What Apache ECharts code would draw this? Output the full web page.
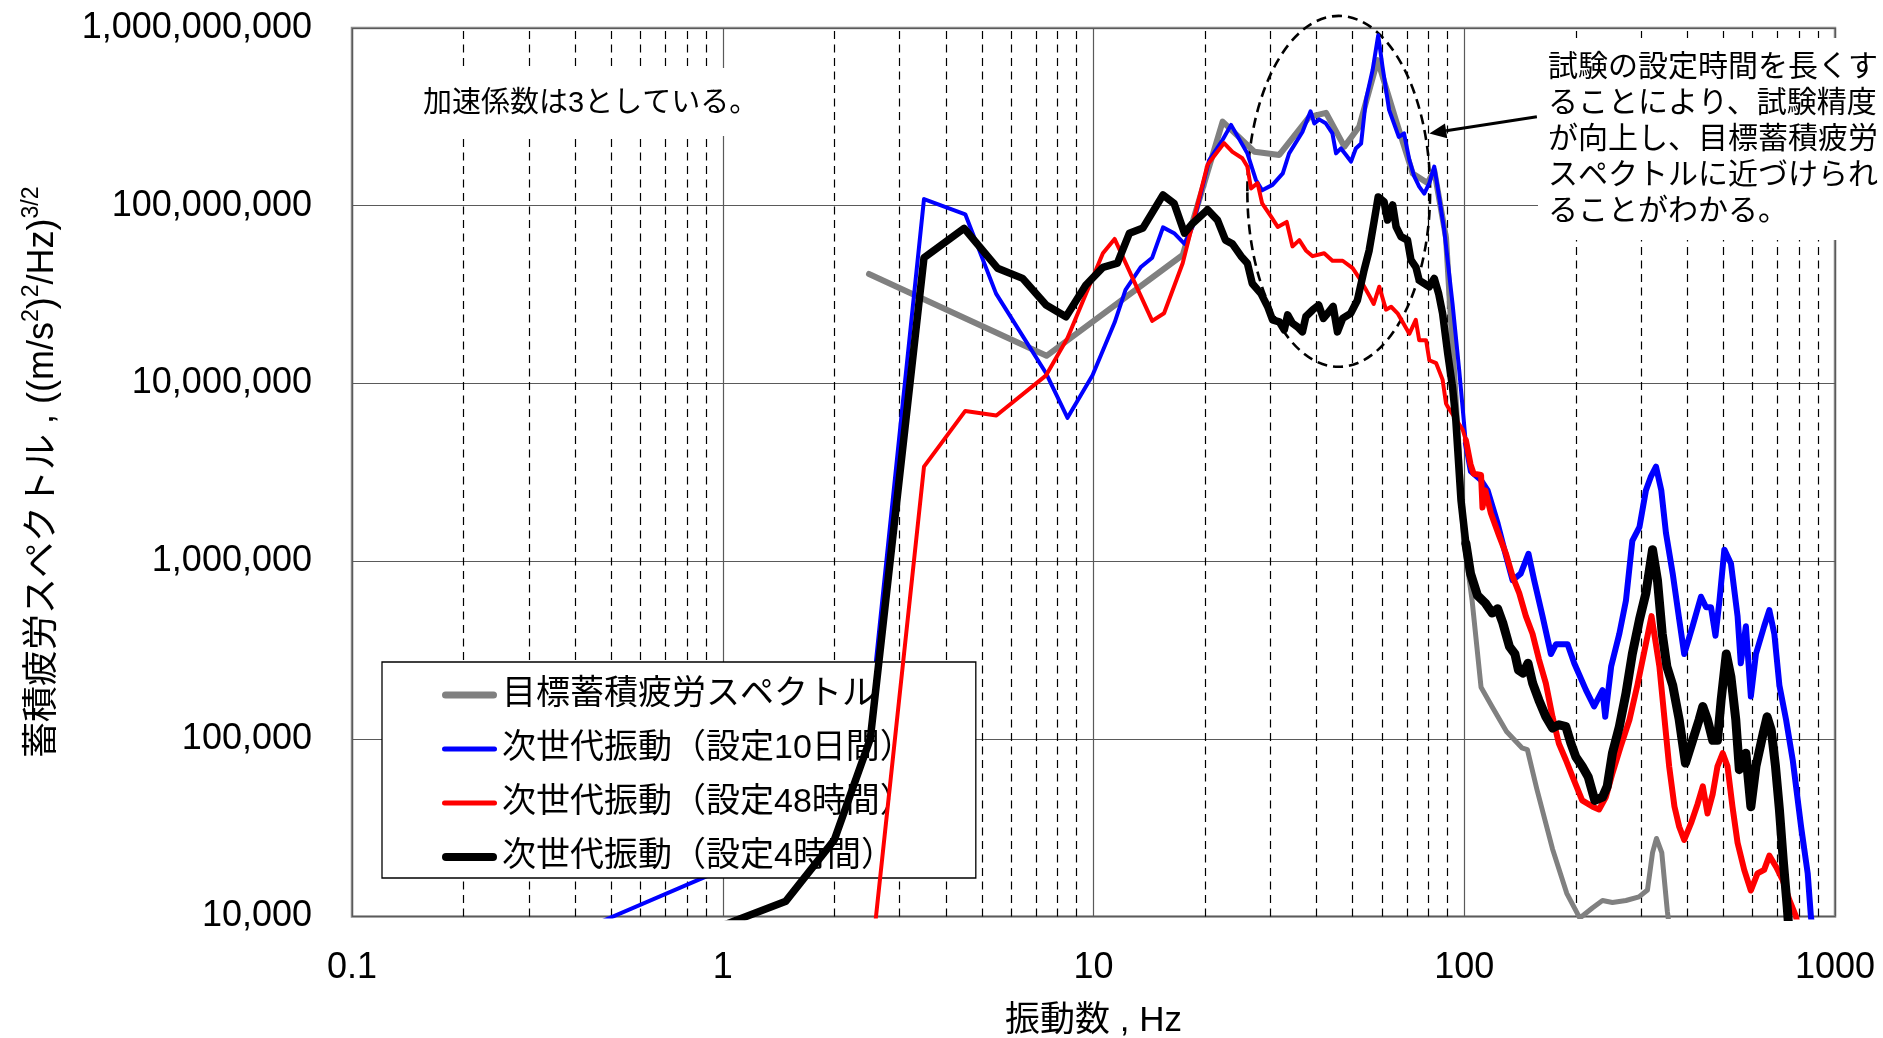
<!DOCTYPE html>
<html>
<head>
<meta charset="utf-8">
<script src="https://cdn.jsdelivr.net/npm/echarts@6/dist/echarts.min.js"></script>
<style>
  html, body { margin: 0; padding: 0; background: #fff; }
  #chart { width: 1883px; height: 1038px; }
</style>
</head>
<body>
<div id="chart"></div>
<script>
// Accumulated fatigue spectrum: target vs. three test settings (log-log)

const xTickLabels = ['0.1', '1', '10', '100', '1000'];
const yTickLabels = ['10,000', '100,000', '1,000,000', '10,000,000', '100,000,000', '1,000,000,000'];

const seriesNames = [
  '目標蓄積疲労スペクトル',
  '次世代振動（設定10日間）',
  '次世代振動（設定48時間）',
  '次世代振動（設定4時間）'
];

// Target spectrum
const targetFreq = [2.48, 7.47, 17.4, 22.3, 27.2, 31.7, 38.2, 42.4, 47.5, 52.1, 58.4, 65.4, 72.6, 79.6, 83, 89.3,
  100, 105, 111, 119, 130, 143, 148, 157, 173, 189, 205, 222, 236, 251, 273, 296, 312, 322, 330, 341, 353, 375];
const targetValue = [4.13e7, 1.43e7, 5.28e7, 2.97e8, 2.01e8, 1.93e8, 3.16e8, 3.33e8, 2.15e8, 2.79e8, 6.6e8, 3.03e8, 1.52e8, 1.34e8, 1.58e8, 6.6e7,
  1.26e6, 6.0e5, 1.95e5, 1.51e5, 1.10e5, 8.9e4, 8.7e4, 5.2e4, 2.4e4, 1.35e4, 9.8e3, 1.12e4, 1.23e4, 1.2e4, 1.23e4, 1.29e4, 1.41e4, 2.29e4, 2.75e4, 2.29e4, 1.07e4, 4.0e3];

// Setting: 10 days
const run10dFreq = [0.4, 1.0, 2.5, 3.49, 4.51, 5.46, 7.45, 8.51, 9.94, 11.4, 12.2, 13.4, 14.4, 15.4, 16.5, 17.6, 18.5, 20.5, 22.3, 23.5,
  26.0, 27.4, 28.5, 30.4, 32.4, 33.7, 36.6, 38.5, 39.4, 40.6, 42.3, 44.1, 45.1, 46.5, 48, 49.5, 51, 52.7, 54.3, 56.6,
  58.6, 60.2, 62.7, 66.6, 68.8, 71.1, 73.3, 75.6, 78, 80.5, 83, 84.7, 88.3, 93, 96.9, 101, 104.2, 110.9, 115.6, 123,
  128.3, 135, 142, 149, 154.4, 162.6, 171.3, 176.7, 190, 198, 213, 224, 236, 240, 249, 262, 273, 284, 297, 309,
  319, 329, 340, 350, 365, 380, 392, 413, 435, 449, 463, 476, 488, 503, 524, 546, 557, 575, 593, 612,
  644, 665, 686, 708, 738, 769, 810, 844, 861, 900];
const run10dValue = [8.1e3, 1.84e4, 1.35e5, 1.09e8, 8.95e7, 3.2e7, 1.14e7, 6.4e6, 1.11e7, 2.2e7, 3.36e7, 4.5e7, 5.1e7, 7.55e7, 7.0e7, 6.1e7, 7.6e7, 1.8e8, 2.35e8, 2.85e8,
  1.97e8, 1.4e8, 1.22e8, 1.31e8, 1.52e8, 1.97e8, 2.6e8, 3.4e8, 2.9e8, 3.06e8, 2.91e8, 2.55e8, 1.97e8, 2.1e8, 1.93e8, 1.77e8, 2.1e8, 2.24e8, 3.94e8, 5.8e8,
  9.1e8, 6.05e8, 3.46e8, 2.44e8, 2.55e8, 1.81e8, 1.46e8, 1.28e8, 1.17e8, 1.34e8, 1.66e8, 1.28e8, 7.3e7, 2.8e7, 1.19e7, 4.6e6, 3.2e6, 2.86e6, 2.5e6, 1.63e6,
  1.16e6, 7.8e5, 8.5e5, 1.1e6, 7.8e5, 4.9e5, 3.0e5, 3.4e5, 3.4e5, 2.66e5, 1.88e5, 1.52e5, 1.88e5, 1.33e5, 2.55e5, 3.9e5, 6.0e5, 1.3e6, 1.56e6, 2.5e6,
  3.0e6, 3.4e6, 2.5e6, 1.44e6, 8.5e5, 4.7e5, 3.0e5, 4.3e5, 6.3e5, 5.5e5, 5.5e5, 3.8e5, 6.0e5, 1.16e6, 9.7e5, 4.9e5, 2.66e5, 4.3e5, 1.73e5, 3.0e5,
  4.3e5, 5.3e5, 3.9e5, 2.0e5, 1.28e5, 7.6e4, 3.2e4, 1.75e4, 1.0e4, 5e3];

// Setting: 48 hours
const run48hFreq = [2.5, 3.49, 4.51, 5.47, 7.45, 8.51, 10.6, 11.4, 14.4, 15.5, 17.4, 20.3, 22.5, 23.7, 25.2, 26.0, 26.6, 27.7, 28.5, 30.1,
  31.4, 33.2, 34.4, 35.9, 37.4, 39, 41.9, 44.1, 47, 50, 52.6, 55.5, 57, 59, 61.5, 63.5, 66.1, 71.1, 74, 75.6,
  78.9, 80.5, 84, 87.4, 89.3, 90.2, 99, 101, 104, 106, 111, 112, 114, 118, 124, 129.6, 135, 140.7, 146.6, 152.8,
  159, 166, 173, 180, 188, 196, 208, 222, 231, 241, 251, 264, 279, 293, 305, 320, 336, 347, 357, 369,
  380, 392, 409, 426, 440, 453, 468, 482, 498, 513, 529, 546, 569, 593, 618, 644, 665, 694, 723, 753, 785, 810];
const run48hValue = [5e3, 3.4e6, 7.0e6, 6.6e6, 1.11e7, 1.8e7, 5.4e7, 6.5e7, 2.25e7, 2.48e7, 4.74e7, 1.7e8, 2.25e8, 2.01e8, 1.85e8, 1.66e8, 1.25e8, 1.34e8, 1.03e8, 8.7e7,
  7.6e7, 8.1e7, 5.9e7, 6.4e7, 5.6e7, 5.2e7, 5.4e7, 4.9e7, 4.9e7, 4.45e7, 3.8e7, 3.1e7, 2.8e7, 3.5e7, 2.6e7, 2.7e7, 2.48e7, 1.9e7, 2.28e7, 1.75e7,
  1.75e7, 1.35e7, 1.3e7, 1.05e7, 7.7e6, 7.4e6, 5.5e6, 4.8e6, 3.5e6, 3.1e6, 3.05e6, 2.0e6, 2.5e6, 1.86e6, 1.4e6, 1.1e6, 8.2e5, 6.6e5, 4.9e5, 3.9e5,
  2.8e5, 2.05e5, 1.33e5, 9.4e4, 7.6e4, 6.1e4, 4.5e4, 4.15e4, 4.0e4, 4.7e4, 6.4e4, 9.0e4, 1.28e5, 2.0e5, 3.0e5, 4.9e5, 2.55e5, 1.28e5, 7.0e4, 4.15e4,
  3.2e4, 2.7e4, 3.35e4, 4.3e4, 5.4e4, 3.8e4, 4.9e4, 7.0e4, 8.3e4, 7.0e4, 4.15e4, 2.6e4, 1.83e4, 1.4e4, 1.75e4, 1.83e4, 2.2e4, 1.9e4, 1.6e4, 1.24e4, 1.0e4, 7e3];

// Setting: 4 hours
const run4hFreq = [1.0, 1.48, 2.0, 2.5, 3.49, 4.48, 5.51, 6.44, 7.45, 8.43, 9.54, 10.6, 11.6, 12.5, 13.6, 15.4, 16.5, 17.6, 18.5, 20.3,
  21.6, 22.7, 23.7, 25, 26, 26.8, 28.3, 29.5, 30.4, 31.7, 32.7, 33.4, 34.4, 35.5, 36.6, 37.4, 39, 40.5, 41.7, 42.8,
  44.3, 45.5, 47, 49.4, 51.5, 53.7, 55.4, 57.2, 58.6, 60.8, 62.1, 64.1, 65.5, 67.5, 70.3, 71.8, 74.1, 75.6, 78, 80.5,
  83, 85.3, 87.4, 90.2, 93, 94.9, 98, 101, 104, 108.6, 114, 119, 123, 127, 132.4, 137, 140, 144, 148.6, 153,
  159, 166, 173, 180, 188, 194, 200, 208, 216, 225, 236, 243, 251, 262, 273, 284, 297, 309, 322, 332,
  342, 352, 365, 380, 395, 413, 430, 440, 453, 468, 482, 493, 509, 524, 540, 552, 575, 593, 612, 640,
  656, 673, 691, 708, 725, 743, 760];
const run4hValue = [8.9e3, 1.22e4, 2.7e4, 1.0e5, 5.1e7, 7.46e7, 4.45e7, 3.9e7, 2.76e7, 2.37e7, 3.58e7, 4.5e7, 4.75e7, 7.0e7, 7.5e7, 1.15e8, 1.03e8, 7.0e7, 7.95e7, 9.5e7,
  8.3e7, 6.4e7, 6.1e7, 5.2e7, 4.75e7, 3.65e7, 3.2e7, 2.7e7, 2.28e7, 2.22e7, 2.0e7, 2.43e7, 2.18e7, 2.08e7, 1.95e7, 2.38e7, 2.59e7, 2.76e7, 2.32e7, 2.48e7,
  2.71e7, 1.95e7, 2.32e7, 2.48e7, 2.94e7, 4.35e7, 5.6e7, 8.3e7, 1.12e8, 1.05e8, 8.3e7, 1.01e8, 7.6e7, 6.7e7, 6.4e7, 4.95e7, 4.5e7, 3.8e7, 3.65e7, 3.5e7,
  3.9e7, 3.2e7, 2.48e7, 1.48e7, 9.5e6, 6.2e6, 2.2e6, 1.26e6, 8.5e5, 6.4e5, 5.8e5, 5.1e5, 5.4e5, 4.5e5, 3.3e5, 3.0e5, 2.44e5, 2.34e5, 2.66e5, 2.05e5,
  1.65e5, 1.33e5, 1.15e5, 1.2e5, 1.17e5, 9.4e4, 7.9e4, 7.0e4, 6.1e4, 4.5e4, 4.7e4, 5.4e4, 8.3e4, 1.17e5, 1.8e5, 3.0e5, 4.7e5, 6.6e5, 1.16e6, 7.8e5,
  3.9e5, 2.55e5, 2.0e5, 1.28e5, 7.3e4, 9.8e4, 1.28e5, 1.52e5, 1.28e5, 9.8e4, 9.8e4, 1.65e5, 3.0e5, 2.23e5, 1.28e5, 6.7e4, 8.3e4, 4.15e4, 7.0e4, 1.07e5,
  1.33e5, 1.12e5, 7.0e4, 4.0e4, 2.08e4, 1.14e4, 6e3];

const noteLeft = '加速係数は3としている。';
const noteRightLines = [
  '試験の設定時間を長くす',
  'ることにより、試験精度',
  'が向上し、目標蓄積疲労',
  'スペクトルに近づけられ',
  'ることがわかる。'
];

const LATIN = "'Liberation Sans', Arial, 'Noto Sans CJK JP', sans-serif";
const seriesColors = ['#808080', '#0000ff', '#ff0000', '#000000'];
// stroke width below / above ~100 Hz (the measured traces are densely jittered up there)
const widthLow = [6, 4, 4, 7.5];
const widthHigh = [5, 6, 6, 9];
const legendBar = [7, 5, 5, 8];
const SPLIT_HZ = 100;

function toPairs(f, v) {
  const n = Math.min(f.length, v.length);
  const out = [];
  for (let i = 0; i < n; i++) out.push([f[i], v[i]]);
  return out;
}

// split a trace in two parts that share the point nearest to the split frequency
function splitTrace(pairs, fs) {
  let k = 0, best = Infinity;
  pairs.forEach(function (p, i) {
    const d = Math.abs(Math.log10(p[0] / fs));
    if (d < best) { best = d; k = i; }
  });
  return [pairs.slice(0, k + 1), pairs.slice(k)];
}

// dashed minor grid at 2..9 within each decade
const minorFreqs = [];
[0.1, 1, 10, 100].forEach(function (d) {
  for (let k = 2; k <= 9; k++) minorFreqs.push(+(k * d).toPrecision(3));
});

// rounded bar used as legend key (width x thickness)
function barIcon(w, t) {
  const r = t / 2;
  return 'path://M' + r + ',0 L' + (w - r) + ',0 A' + r + ',' + r + ' 0 0 1 ' + (w - r) + ',' + t +
    ' L' + r + ',' + t + ' A' + r + ',' + r + ' 0 0 1 ' + r + ',0 Z';
}

const dataSets = [
  toPairs(targetFreq, targetValue),
  toPairs(run10dFreq, run10dValue),
  toPairs(run48hFreq, run48hValue),
  toPairs(run4hFreq, run4hValue)
];

const chart = echarts.init(document.getElementById('chart'), null, { renderer: 'canvas' });

function lineSeries(name, data, i, width) {
  return {
    name: name,
    type: 'line',
    data: data,
    symbol: 'none',
    showSymbol: false,
    clip: true,
    z: 2 + i,
    color: seriesColors[i],
    lineStyle: { color: seriesColors[i], width: width, join: 'round', cap: 'round' },
    emphasis: { disabled: true },
    silent: true
  };
}

const series = [];
dataSets.forEach(function (d, i) {
  const parts = splitTrace(d, SPLIT_HZ);
  series.push(lineSeries(seriesNames[i], parts[0], i, widthLow[i]));
  series.push(lineSeries(seriesNames[i], parts[1], i, widthHigh[i]));
});

series.push({
  name: 'minor-grid',
  type: 'line',
  data: [],
  silent: true,
  markLine: {
    silent: true,
    z: 0.5,
    animation: false,
    symbol: ['none', 'none'],
    label: { show: false },
    emphasis: { disabled: true },
    lineStyle: { type: [8, 5.5], color: '#000', width: 1.2 },
    data: minorFreqs.map(function (f) { return { xAxis: f }; })
  }
});

const option = {
  animation: false,
  backgroundColor: '#ffffff',
  textStyle: { fontFamily: LATIN },
  grid: {
    left: 352, top: 28, width: 1483, height: 888.5,
    show: true, borderColor: '#8a8a8a', borderWidth: 2.5, backgroundColor: 'transparent',
    containLabel: false, outerBoundsMode: 'none'
  },
  xAxis: {
    type: 'log', logBase: 10, min: 0.1, max: 1000,
    axisLine: { show: false }, axisTick: { show: false },
    axisLabel: {
      fontSize: 36, fontFamily: LATIN, color: '#000', margin: 34,
      showMinLabel: true, showMaxLabel: true,
      formatter: function (v) { return xTickLabels[Math.round(Math.log10(v)) + 1]; }
    },
    splitLine: { show: true, lineStyle: { color: '#5a5a5a', width: 1.2 } },
    name: '振動数 , Hz', nameLocation: 'middle', nameGap: 87,
    nameTextStyle: { fontSize: 35, fontFamily: LATIN, color: '#000' }
  },
  yAxis: {
    type: 'log', logBase: 10, min: 1e4, max: 1e9,
    axisLine: { show: false }, axisTick: { show: false },
    axisLabel: {
      fontSize: 36, fontFamily: LATIN, color: '#000', margin: 40,
      showMinLabel: true, showMaxLabel: true,
      formatter: function (v) { return yTickLabels[Math.round(Math.log10(v)) - 4]; }
    },
    splitLine: { show: true, lineStyle: { color: '#5a5a5a', width: 1.2 } },
    name: '{a|蓄積疲労スペクトル , ((m/s}{s|2}{a|)}{s|2}{a|/Hz)}{s|3/2}',
    nameLocation: 'middle', nameRotate: 90, nameGap: 286,
    nameTextStyle: {
      rich: {
        a: { fontSize: 36, fontFamily: LATIN, color: '#000', lineHeight: 46 },
        s: { fontSize: 23, fontFamily: LATIN, color: '#000', lineHeight: 23, verticalAlign: 'top' }
      }
    }
  },
  legend: {
    show: true, orient: 'vertical', left: 382, top: 662,
    padding: [12, 62, 0, 60], itemGap: 12, itemWidth: 55, itemHeight: 14,
    backgroundColor: '#fff', borderColor: '#000', borderWidth: 1.3, borderRadius: 0,
    selectedMode: false, symbolKeepAspect: true,
    itemStyle: { borderWidth: 0 },
    textStyle: { fontSize: 34, fontFamily: LATIN, color: '#000', lineHeight: 42 },
    data: seriesNames.map(function (n, i) {
      return { name: n, icon: barIcon(55, legendBar[i]) };
    })
  },
  series: series
};

chart.setOption(option);

// annotations anchored to data coordinates
function px(f, v) { return chart.convertToPixel({ gridIndex: 0 }, [f, v]); }

const eL = px(26.0, 1.2e8), eR = px(80.9, 1.2e8);
const eT = px(45.9, 1.17e9), eB = px(45.9, 1.24e7);
const ell = {
  cx: (eL[0] + eR[0]) / 2, cy: (eT[1] + eB[1]) / 2,
  rx: (eR[0] - eL[0]) / 2, ry: (eB[1] - eT[1]) / 2
};

const aStart = px(157, 3.17e8), aTip = px(80.5, 2.55e8);
const dx = aTip[0] - aStart[0], dy = aTip[1] - aStart[1];
const len = Math.sqrt(dx * dx + dy * dy);
const ux = dx / len, uy = dy / len;
const headLen = 17, headHalf = 7.5;
const baseX = aTip[0] - ux * headLen, baseY = aTip[1] - uy * headLen;

const graphics = [
  { type: 'rect', z: 1, silent: true, shape: { x: 410, y: 68, width: 365, height: 68 }, style: { fill: '#fff' } },
  { type: 'text', z: 6, silent: true, x: 423, y: 104,
    style: { text: noteLeft, fontSize: 29, fontFamily: LATIN, fill: '#000', align: 'left', verticalAlign: 'middle', textAlign: 'left', textVerticalAlign: 'middle' } },
  { type: 'rect', z: 1, silent: true, shape: { x: 1538, y: 38, width: 345, height: 202 }, style: { fill: '#fff' } },
  { type: 'ellipse', z: 1.5, silent: true, shape: ell,
    style: { fill: 'none', stroke: '#000', lineWidth: 2.6, lineDash: [10, 6] } },
  { type: 'line', z: 6, silent: true, shape: { x1: aStart[0], y1: aStart[1], x2: baseX, y2: baseY },
    style: { stroke: '#000', lineWidth: 3 } },
  { type: 'polygon', z: 6, silent: true,
    shape: { points: [
      [aTip[0], aTip[1]],
      [baseX - uy * headHalf, baseY + ux * headHalf],
      [baseX + uy * headHalf, baseY - ux * headHalf]
    ] },
    style: { fill: '#000' } }
];
noteRightLines.forEach(function (t, i) {
  graphics.push({
    type: 'text', z: 6, silent: true, x: 1548, y: 68 + i * 36,
    style: { text: t, fontSize: 30, fontFamily: LATIN, fill: '#000', align: 'left', verticalAlign: 'middle', textAlign: 'left', textVerticalAlign: 'middle' }
  });
});

chart.setOption({ graphic: { elements: graphics } });
</script>
</body>
</html>
